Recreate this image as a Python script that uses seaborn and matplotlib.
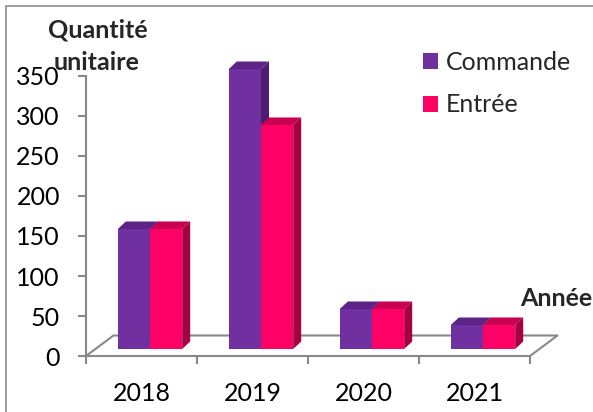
import matplotlib
matplotlib.use("Agg")
import matplotlib.pyplot as plt
import pandas as pd
import seaborn as sns
from matplotlib.patches import Polygon, Rectangle, Patch
from matplotlib.lines import Line2D
from matplotlib.transforms import ScaledTranslation, IdentityTransform

# Data
annees = ["2018", "2019", "2020", "2021"]
series = ["Commande", "Entrée"]
commande = [150, 350, 50, 30]
entree = [150, 280, 50, 30]
yticks = [0, 50, 100, 150, 200, 250, 300, 350]

# Colours: front, top and side faces of each series
face_colors = ["#7030A0", "#FF0066"]
top_colors = ["#5B2486", "#C8004F"]
side_colors = ["#4E1E74", "#A5003F"]
grid_gray = "#888888"

W, H, DPI = 593, 412, 100
sns.set_style("white")
plt.rcParams["font.family"] = ["Lato", "DejaVu Sans"]
FS = 18


def fx(px):
    return px / W


def fy(py):
    return 1 - py / H


fig = plt.figure(figsize=(W / DPI, H / DPI), dpi=DPI)
ax = fig.add_axes([fx(86), fy(356), (530 - 86) / W, (356 - 76) / H])
ax.patch.set_alpha(0)

df = pd.DataFrame({
    "Année": annees * 2,
    "Série": [series[0]] * len(annees) + [series[1]] * len(annees),
    "Valeur": commande + entree,
})
sns.barplot(data=df, x="Année", y="Valeur", hue="Série", palette=face_colors,
            width=0.58, saturation=1, linewidth=0, legend=False, ax=ax)
ax.set_xlim(-0.5, 3.5)
ax.set_ylim(0, 350)

# Bars stand slightly behind the front edge of the floor
bar_shift = ScaledTranslation(8.5 / DPI, 7 / DPI, fig.dpi_scale_trans)
bar_trans = ax.transData + bar_shift
bar_depth = (8.0, 7.5)        # pixels, right / up
floor_depth = (27.5, 20.5)

for s, cont in enumerate(ax.containers):
    z = 3 + s
    for bar in cont.patches:
        bar.set_transform(bar_trans)
        bar.set_clip_on(False)
        bar.set_zorder(z)
        x0, x1 = bar.get_x(), bar.get_x() + bar.get_width()
        h = bar.get_height()
        (X0, Yb), (X1, Yt) = bar_trans.transform([(x0, 0), (x1, h)])
        dx, dy = bar_depth
        top = Polygon([(X0, Yt), (X1, Yt), (X1 + dx, Yt + dy), (X0 + dx, Yt + dy)],
                      closed=True, facecolor=top_colors[s], edgecolor="none",
                      transform=IdentityTransform(), clip_on=False, zorder=z + 0.5)
        side = Polygon([(X1, Yb), (X1 + dx, Yb + dy), (X1 + dx, Yt + dy), (X1, Yt)],
                       closed=True, facecolor=side_colors[s], edgecolor="none",
                       transform=IdentityTransform(), clip_on=False, zorder=z + 0.5)
        ax.add_artist(top)
        ax.add_artist(side)

# Floor of the 3D plot
(LX, LY), (RX, RY) = ax.transAxes.transform([(0, 0), (1, 0)])
fdx, fdy = floor_depth
floor_pts = [(LX, LY), (LX + fdx, LY + fdy), (RX + fdx, RY + fdy), (RX, RY)]
ax.add_artist(Line2D([p[0] for p in floor_pts], [p[1] for p in floor_pts],
                     color=grid_gray, lw=1.5, transform=IdentityTransform(),
                     clip_on=False, zorder=2))

# Axes styling
for side_name in ["top", "right"]:
    ax.spines[side_name].set_visible(False)
for side_name in ["left", "bottom"]:
    ax.spines[side_name].set_color(grid_gray)
    ax.spines[side_name].set_linewidth(1.5)

ax.set_yticks(yticks)
ax.set_yticklabels([str(v) for v in yticks], fontsize=FS)
ax.tick_params(axis="y", which="major", left=True, direction="out", length=5.8,
               width=1.5, color=grid_gray, pad=13, labelcolor="black")
ax.set_xticks(range(len(annees)))
ax.set_xticklabels(annees, fontsize=FS)
ax.set_xticks([i - 0.5 for i in range(len(annees) + 1)], minor=True)
ax.tick_params(axis="x", which="major", bottom=True, length=0, pad=18.5, labelcolor="black")
ax.tick_params(axis="x", which="minor", bottom=True, direction="out", length=5.8,
               width=1.5, color=grid_gray)
ax.set_xlabel("")
ax.set_ylabel("")

# Axis titles
fig.text(fx(98), fy(30), "Quantité", ha="center", va="center",
         fontsize=FS, fontweight="bold")
fig.text(fx(97), fy(62), "unitaire", ha="center", va="center",
         fontsize=FS, fontweight="bold")
fig.text(fx(520), fy(298), "Année", ha="left", va="center",
         fontsize=FS, fontweight="bold")

# Legend
handles = [Patch(facecolor=c, edgecolor="none") for c in face_colors]
fig.legend(handles, series, loc="upper left", bbox_to_anchor=(fx(423), fy(51)),
           frameon=False, fontsize=FS, handlelength=0.6, handleheight=0.6,
           handletextpad=0.3, labelspacing=0.78, borderpad=0, borderaxespad=0)

# Chart area border
fig.add_artist(Rectangle((fx(6), -0.5), 2, fy(6) + 0.5, transform=fig.transFigure,
                         fill=False, edgecolor="#8c8c8c", lw=1.2))

fig.savefig("out.png", dpi=DPI)
